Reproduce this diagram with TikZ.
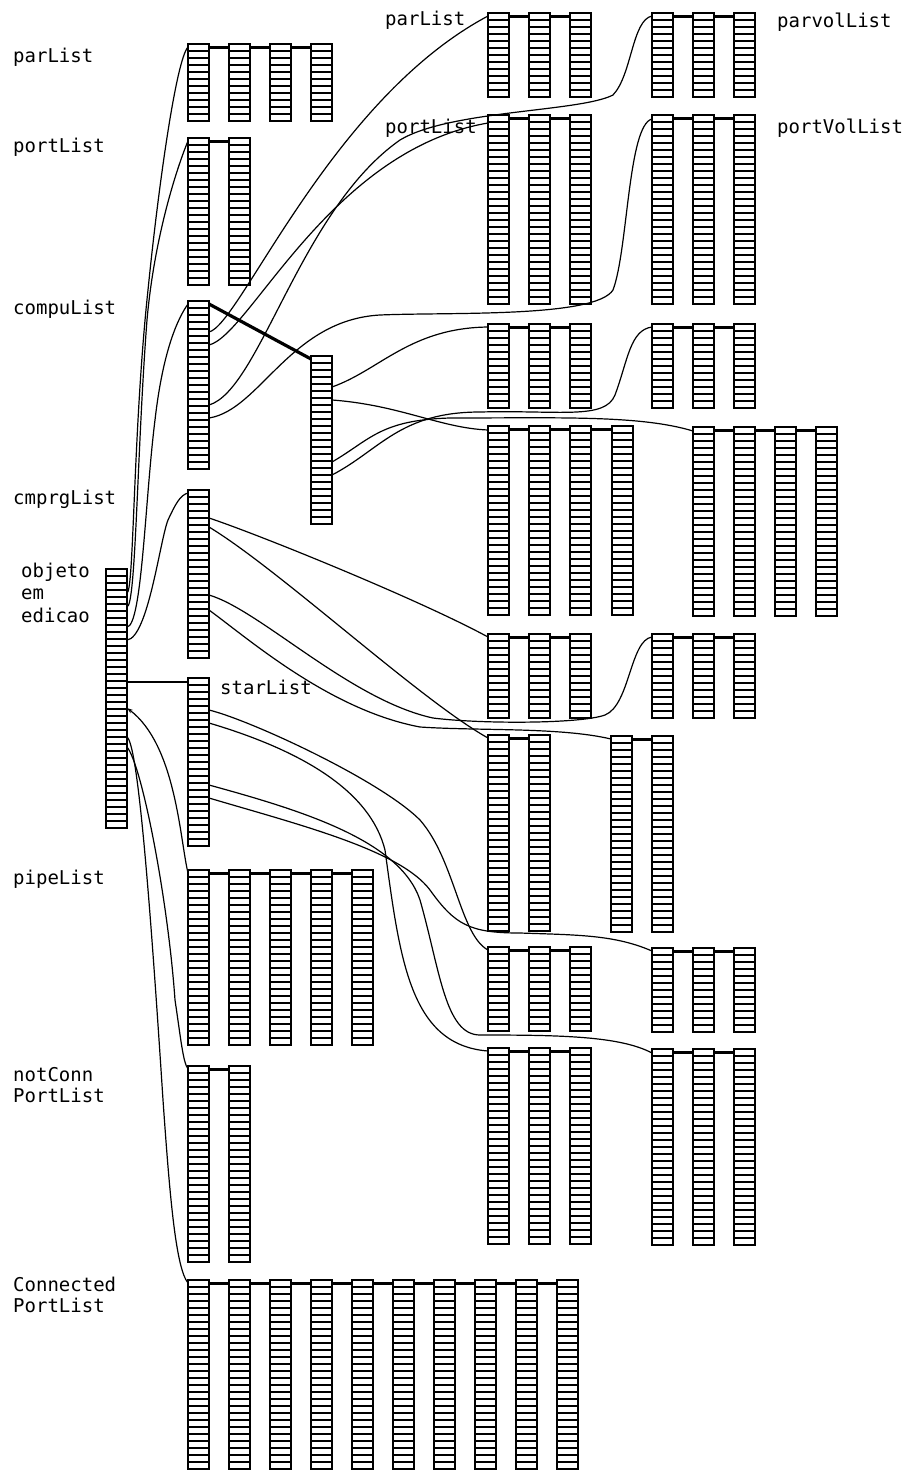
\documentclass[tikz,border=0pt]{standalone}
\usepackage{fontspec}
\newfontfamily\plotfont{DejaVu Sans Mono}
\usetikzlibrary{calc,arrows.meta}
\newcommand\grouplink[2]{%
  \pgfmathtruncatemacro\glast{#2-1}%
  \foreach \ga in {1,...,\glast}{%
    \pgfmathtruncatemacro\gb{\ga+1}%
    \draw[hlink] ($(#1\ga.north east)+(0,3.5)$) -- ($(#1\gb.north west)+(0,3.5)$);}}
\begin{document}
\begin{tikzpicture}[x=1pt,y=-1pt,
  lcol/.style={draw,rectangle,line width=1.8pt,inner sep=0pt,outer sep=0pt,
    minimum width=21pt,minimum height={#1*7pt},anchor=north west,
    path picture={\pgfmathtruncatemacro\nn{#1-1}%
      \foreach \k in {1,...,\nn}{\draw[line width=1.5pt]
        ([yshift={-\k*7pt}]path picture bounding box.north west) --
        ([yshift={-\k*7pt}]path picture bounding box.north east);}}},
  hlink/.style={line width=2.8pt},
  conn/.style={line width=1.2pt},
  lbl/.style={font=\plotfont\fontsize{19}{19}\selectfont,anchor=base west,inner sep=0pt}]
\useasboundingbox (0,0) rectangle (917,1472);

% ---------- left structure ----------
\node[lcol=37] (obj) at (106,569) {};
\foreach \i in {1,...,4} \node[lcol=11] (lpar\i) at ({188+41*(\i-1)},44) {};
\foreach \i in {1,2} \node[lcol=21] (lport\i) at ({188+41*(\i-1)},138) {};
\node[lcol=24] (compuA) at (188,301) {};
\node[lcol=24] (compuB) at (311,356) {};
\node[lcol=24] (cmprg) at (188,490) {};
\node[lcol=24] (star) at (188,678) {};
\foreach \i in {1,...,5} \node[lcol=25] (pipe\i) at ({188+41*(\i-1)},870) {};
\foreach \i in {1,2} \node[lcol=28] (nc\i) at ({188+41*(\i-1)},1066) {};
\foreach \i in {1,...,10} \node[lcol=27] (cp\i) at ({188+41*(\i-1)},1280) {};

% ---------- right structure ----------
\foreach \i/\x in {1/488,2/529,3/570} {
  \node[lcol=12] (rpar\i) at (\x,13) {};
  \node[lcol=27] (rport\i) at (\x,115) {};
  \node[lcol=12] (ra\i) at (\x,324) {};
  \node[lcol=12] (rc\i) at (\x,634) {};
  \node[lcol=12] (rg\i) at (\x,947) {};
  \node[lcol=28] (ri\i) at (\x,1048) {};
}
\foreach \i/\x in {1/652,2/693,3/734} {
  \node[lcol=12] (rpv\i) at (\x,13) {};
  \node[lcol=27] (rpvl\i) at (\x,115) {};
  \node[lcol=12] (rb\i) at (\x,324) {};
  \node[lcol=12] (rd\i) at (\x,634) {};
  \node[lcol=12] (rh\i) at (\x,948) {};
  \node[lcol=28] (rj\i) at (\x,1049) {};
}
\foreach \i/\x in {1/488,2/529,3/570,4/612} \node[lcol=27] (fa\i) at (\x,426) {};
\foreach \i/\x in {1/693,2/734,3/775,4/816} \node[lcol=27] (fb\i) at (\x,427) {};
\foreach \i/\x in {1/488,2/529} \node[lcol=28] (re\i) at (\x,735) {};
\foreach \i/\x in {1/611,2/652} \node[lcol=28] (rf\i) at (\x,736) {};

% ---------- header links ----------
\grouplink{lpar}{4}\grouplink{lport}{2}\grouplink{pipe}{5}\grouplink{nc}{2}\grouplink{cp}{10}
\grouplink{rpar}{3}\grouplink{rport}{3}\grouplink{ra}{3}\grouplink{rc}{3}\grouplink{rg}{3}\grouplink{ri}{3}
\grouplink{rpv}{3}\grouplink{rpvl}{3}\grouplink{rb}{3}\grouplink{rd}{3}\grouplink{rh}{3}\grouplink{rj}{3}
\grouplink{fa}{4}\grouplink{fb}{4}\grouplink{re}{2}\grouplink{rf}{2}
\draw[line width=3.2pt] ($(compuA.north east)+(0,3)$) -- ($(compuB.north west)+(0,3)$);

% ---------- attachment points ----------
\coordinate (o1) at ($(obj.north east)+(0,24)$);
\coordinate (o2) at ($(obj.north east)+(0,38)$);
\coordinate (o3) at ($(obj.north east)+(0,58)$);
\coordinate (o4) at ($(obj.north east)+(0,71)$);
\coordinate (o5) at ($(obj.north east)+(0,113)$);
\coordinate (o6) at ($(obj.north east)+(0,139)$);
\coordinate (o7) at ($(obj.north east)+(0,168)$);
\coordinate (o8) at ($(obj.north east)+(0,178)$);
\coordinate (a1) at ($(compuA.north east)+(0,31)$);
\coordinate (a2) at ($(compuA.north east)+(0,44)$);
\coordinate (a3) at ($(compuA.north east)+(0,104)$);
\coordinate (a4) at ($(compuA.north east)+(0,117)$);
\coordinate (b1) at ($(compuB.north east)+(0,31)$);
\coordinate (b2) at ($(compuB.north east)+(0,44)$);
\coordinate (b3) at ($(compuB.north east)+(0,106)$);
\coordinate (b4) at ($(compuB.north east)+(0,119)$);
\coordinate (c1) at ($(cmprg.north east)+(0,28)$);
\coordinate (c2) at ($(cmprg.north east)+(0,37)$);
\coordinate (c3) at ($(cmprg.north east)+(0,105)$);
\coordinate (c4) at ($(cmprg.north east)+(0,120)$);
\coordinate (s1) at ($(star.north east)+(0,32)$);
\coordinate (s2) at ($(star.north east)+(0,45)$);
\coordinate (s3) at ($(star.north east)+(0,107)$);
\coordinate (s4) at ($(star.north east)+(0,120)$);

% ---------- connectors from the object ----------
\draw[conn] (o1) .. controls (134,592) and (133,430) .. (148,290) .. controls (158,190) and (176,60) .. ($(lpar1.north west)+(0,3)$);
\draw[conn] (o2) .. controls (136,606) and (137,450) .. (147,320) .. controls (155,230) and (180,160) .. ($(lport1.north west)+(0,3)$);
\draw[conn] (o3) .. controls (142,626) and (145,500) .. (155,420) .. controls (163,350) and (178,318) .. ($(compuA.north west)+(0,3)$);
\draw[conn] (o4) .. controls (148,638) and (160,540) .. (168,520) .. controls (175,505) and (180,495) .. ($(cmprg.north west)+(0,3)$);
\draw[conn] (o5) -- ($(star.north west)+(0,4)$);
\draw[conn,-{Stealth[length=6pt,width=4pt]}] ($(pipe1.north west)+(0,3)$) .. controls (180,840) and (176,745) .. (o6);
\draw[conn] (o7) .. controls (138,745) and (150,900) .. (163,1100) .. controls (170,1200) and (176,1268) .. ($(cp1.north west)+(0,3)$);
\draw[conn] (o8) .. controls (142,765) and (168,900) .. (175,1000) .. controls (181,1040) and (183,1062) .. ($(nc1.north west)+(0,3)$);

% ---------- connectors from compuList ----------
\draw[conn] (a1) .. controls (240,325) and (330,100) .. ($(rpar1.north west)+(0,3)$);
\draw[conn] (a2) .. controls (250,335) and (330,150) .. ($(rport1.north west)+(0,8)$);
\draw[conn] (a3) .. controls (260,390) and (300,210) .. (400,140) .. controls (450,110) and (580,112) .. (613,95) .. controls (632,75) and (632,20) .. ($(rpv1.north west)+(0,3)$);
\draw[conn] (a4) .. controls (260,410) and (290,320) .. (380,315) .. controls (450,312) and (595,318) .. (613,290) .. controls (628,250) and (628,125) .. ($(rpvl1.north west)+(0,4)$);
\draw[conn] (b1) .. controls (380,370) and (410,328) .. ($(ra1.north west)+(0,3)$);
\draw[conn] (b2) .. controls (400,405) and (440,428) .. ($(fa1.north west)+(0,4)$);
\draw[conn] (b3) .. controls (370,440) and (380,420) .. (450,418) .. controls (560,418) and (640,415) .. ($(fb1.north west)+(0,4)$);
\draw[conn] (b4) .. controls (380,450) and (400,412) .. (480,412) .. controls (560,410) and (605,420) .. (615,395) .. controls (628,360) and (630,330) .. ($(rb1.north west)+(0,3)$);

% ---------- connectors from cmprgList ----------
\draw[conn] (c1) .. controls (260,535) and (420,600) .. ($(rc1.north west)+(0,3)$);
\draw[conn] (c2) .. controls (280,570) and (420,700) .. ($(re1.north west)+(0,3)$);
\draw[conn] (c3) .. controls (260,610) and (350,700) .. (433,718) .. controls (480,724) and (580,724) .. (605,715) .. controls (630,705) and (630,640) .. ($(rd1.north west)+(0,3)$);
\draw[conn] (c4) .. controls (250,640) and (330,710) .. (420,727) .. controls (480,731) and (560,727) .. ($(rf1.north west)+(0,3)$);

% ---------- connectors from starList ----------
\draw[conn] (s1) .. controls (250,720) and (380,780) .. (420,820) .. controls (455,860) and (460,935) .. ($(rg1.north west)+(0,3)$);
\draw[conn] (s2) .. controls (300,750) and (370,790) .. (385,850) .. controls (400,960) and (410,1045) .. ($(ri1.north west)+(0,3)$);
\draw[conn] (s3) .. controls (300,810) and (400,840) .. (420,900) .. controls (440,970) and (445,1035) .. (480,1035) .. controls (560,1035) and (620,1036) .. ($(rj1.north west)+(0,4)$);
\draw[conn] (s4) .. controls (300,825) and (400,850) .. (430,890) .. controls (455,925) and (470,933) .. (520,933) .. controls (580,935) and (615,935) .. ($(rh1.north west)+(0,3)$);

% ---------- labels ----------
\node[lbl] (tparL) at (13,63) {parList};
\node[lbl] (tportL) at (13,152) {portList};
\node[lbl] (tcompu) at (13,314) {compuList};
\node[lbl] (tcmprg) at (13,504) {cmprgList};
\node[lbl] (tobj1) at (21,577) {objeto};
\node[lbl] (tobj2) at (21,599) {em};
\node[lbl] (tobj3) at (21,622) {edicao};
\node[lbl] (tstar) at (220,694) {starList};
\node[lbl] (tpipe) at (13,884) {pipeList};
\node[lbl] (tnc1) at (13,1081) {notConn};
\node[lbl] (tnc2) at (13,1102) {PortList};
\node[lbl] (tcp1) at (13,1291) {Connected};
\node[lbl] (tcp2) at (13,1312) {PortList};
\node[lbl] (trpar) at (385,26) {parList};
\node[lbl] (trport) at (385,133) {portList};
\node[lbl] (trpv) at (777,28) {parvolList};
\node[lbl] (trpvl) at (777,133) {portVolList};
\end{tikzpicture}
\end{document}
